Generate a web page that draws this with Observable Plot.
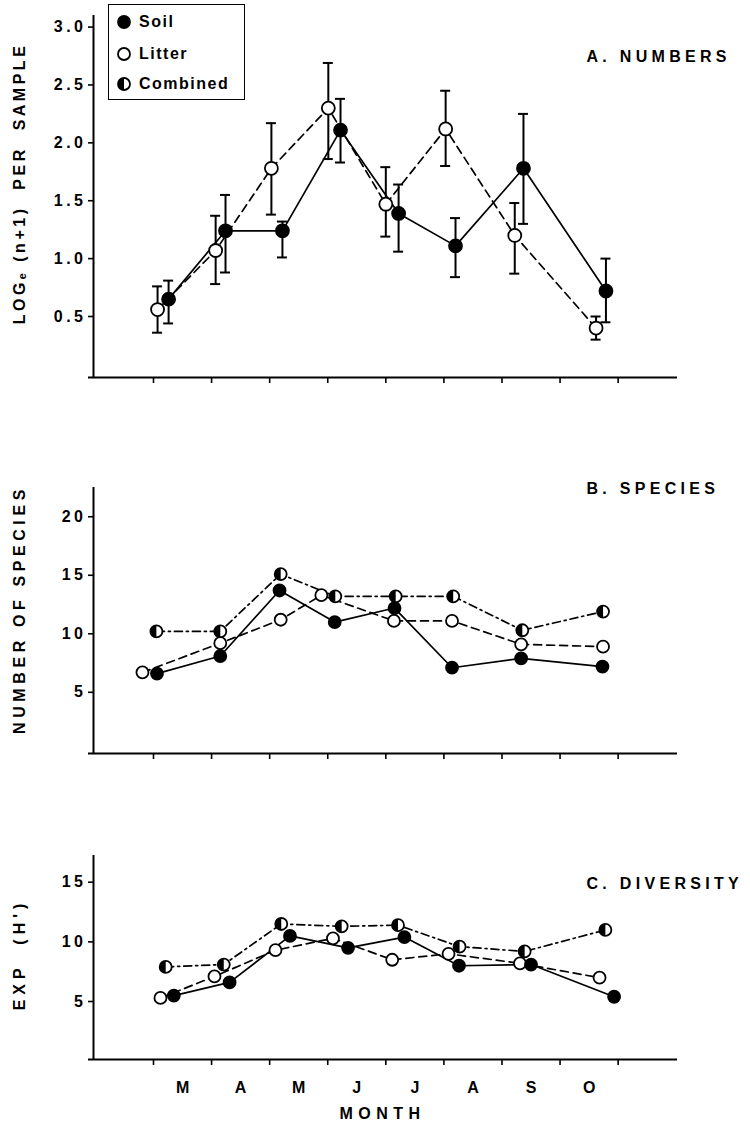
<!DOCTYPE html>
<html>
<head>
<meta charset="utf-8">
<script src="https://cdn.jsdelivr.net/npm/d3@7"></script>
<script src="https://cdn.jsdelivr.net/npm/@observablehq/plot@0.6"></script>
<style>
  body { margin: 0; background: #fff; }
  #wrap { position: relative; width: 750px; height: 1129px; background: #fff; overflow: hidden; }
  #wrap svg { display: block; }
  .legend { position: absolute; left: 108px; top: 4px; width: 135px; height: 94px; border: 1.5px solid #000; background: #fff;
    font-family: "Liberation Sans", Arial, sans-serif; font-weight: bold; font-size: 16px; letter-spacing: 1.5px; color: #000; }
  .legend .row { position: absolute; left: 0; height: 16px; display: flex; align-items: center; }
  .legend .row svg { position: absolute; left: 7px; top: -0px; }
  .legend .row span { position: absolute; left: 30px; white-space: nowrap; line-height: 16px; }
</style>
</head>
<body>
<div id="wrap"></div>
<script>
// ---------- data (x in months after 1 March; y values) ----------
const monthLabels = ["M", "A", "M", "J", "J", "A", "S", "O"];
const monthMids = [0.5, 1.5, 2.5, 3.5, 4.5, 5.5, 6.5, 7.5];
const monthEdges = [0, 1, 2, 3, 4, 5, 6, 7, 8];
const legendLabels = ["Soil", "Litter", "Combined"];

// A. NUMBERS
const numSoilX   = [0.26, 1.24, 2.22, 3.22, 4.22, 5.20, 6.37, 7.79];
const numSoil    = [0.65, 1.24, 1.24, 2.11, 1.39, 1.11, 1.78, 0.72];
const numSoilLo  = [0.44, 0.88, 1.01, 1.83, 1.06, 0.84, 1.30, 0.45];
const numSoilHi  = [0.81, 1.55, 1.32, 2.38, 1.64, 1.35, 2.25, 1.00];
const numLitX    = [0.07, 1.07, 2.03, 3.01, 4.00, 5.03, 6.22, 7.62];
const numLit     = [0.56, 1.07, 1.78, 2.30, 1.47, 2.12, 1.20, 0.40];
const numLitLo   = [0.36, 0.78, 1.38, 1.86, 1.19, 1.80, 0.87, 0.30];
const numLitHi   = [0.76, 1.37, 2.17, 2.69, 1.79, 2.45, 1.48, 0.50];

// B. SPECIES
const spSoilX = [0.06, 1.15, 2.17, 3.12, 4.15, 5.14, 6.33, 7.73];
const spSoil  = [6.6, 8.1, 13.7, 11.0, 12.2, 7.1, 7.9, 7.2];
const spLitX  = [-0.19, 1.15, 2.19, 2.89, 4.14, 5.14, 6.33, 7.74];
const spLit   = [6.7, 9.2, 11.2, 13.3, 11.1, 11.1, 9.1, 8.9];
const spComX  = [0.05, 1.15, 2.19, 3.13, 4.17, 5.16, 6.35, 7.74];
const spCom   = [10.2, 10.2, 15.1, 13.2, 13.2, 13.2, 10.3, 11.9];

// C. DIVERSITY
const dvSoilX = [0.35, 1.31, 2.35, 3.35, 4.32, 5.26, 6.50, 7.93];
const dvSoil  = [5.5, 6.6, 10.5, 9.5, 10.4, 8.0, 8.1, 5.4];
const dvLitX  = [0.12, 1.05, 2.10, 3.09, 4.11, 5.08, 6.31, 7.68];
const dvLit   = [5.3, 7.1, 9.3, 10.3, 8.5, 9.0, 8.2, 7.0];
const dvComX  = [0.21, 1.21, 2.20, 3.24, 4.21, 5.27, 6.39, 7.78];
const dvCom   = [7.9, 8.1, 11.5, 11.3, 11.4, 9.6, 9.2, 11.0];

// ---------- helpers ----------
const XMIN = -1.033, XMAX = 9.022;
const FONT = '"Liberation Sans", Arial, Helvetica, sans-serif';
const rows = (xs, ys, lo, hi) => xs.map((x, i) => ({x, y: ys[i], lo: lo ? lo[i] : null, hi: hi ? hi[i] : null}));

const halfLeft = {
  draw(ctx, size) {
    const r = Math.sqrt(size / Math.PI);
    ctx.moveTo(0, -r);
    ctx.arc(0, 0, r, -Math.PI / 2, Math.PI / 2, true);
    ctx.closePath();
  }
};

const STYLES = {
  soil:   {dash: null, fill: "black"},
  litter: {dash: "8,5", fill: "white"},
  comb:   {dash: "8,4,2,4", fill: "white", half: true}
};

function panel(cfg) {
  const marks = [];
  // axis lines
  marks.push(Plot.ruleX([XMIN], {stroke: "black", strokeWidth: 2}));
  marks.push(Plot.ruleY([cfg.ydomain[0]], {stroke: "black", strokeWidth: 2, insetLeft: -5}));
  // y axis ticks + labels
  marks.push(Plot.axisY({ticks: cfg.yticks, tickFormat: cfg.yfmt, tickSize: 5, tickPadding: 2, label: null,
    fontSize: 16, fontWeight: "bold", strokeWidth: 1.6}));
  // x tick marks
  marks.push(Plot.axisX({ticks: monthEdges, tickSize: 6, tickFormat: () => "", label: null, strokeWidth: 1.6}));
  if (cfg.months) {
    marks.push(Plot.axisX({ticks: monthMids, tickSize: 0, tickPadding: 22, label: null,
      tickFormat: (d, i) => monthLabels[i], fontSize: 16, fontWeight: "bold"}));
    marks.push(Plot.text(["MONTH"], {frameAnchor: "bottom", dy: 59, dx: -3, textAnchor: "middle", fontSize: 16, fontWeight: "bold"}));
  }
  // error bars
  for (const s of cfg.series) {
    if (s.data[0].lo != null) {
      marks.push(Plot.ruleX(s.data, {x: "x", y1: "lo", y2: "hi", stroke: "black", strokeWidth: 2}));
      marks.push(Plot.ruleY(s.data, {x1: "x", x2: "x", y: "lo", stroke: "black", strokeWidth: 2, insetLeft: -5, insetRight: -5}));
      marks.push(Plot.ruleY(s.data, {x1: "x", x2: "x", y: "hi", stroke: "black", strokeWidth: 2, insetLeft: -5, insetRight: -5}));
    }
  }
  // lines
  for (const s of cfg.series) {
    const st = STYLES[s.kind];
    marks.push(Plot.line(s.data, {x: "x", y: "y", stroke: "black", strokeWidth: 1.7, strokeDasharray: st.dash}));
  }
  // dots
  for (const s of cfg.series) {
    const st = STYLES[s.kind];
    marks.push(Plot.dot(s.data, {x: "x", y: "y", r: cfg.r, fill: st.fill, stroke: "black", strokeWidth: 1.8}));
    if (st.half) marks.push(Plot.dot(s.data, {x: "x", y: "y", r: cfg.r, symbol: halfLeft, fill: "black", stroke: "none"}));
  }
  // title & y label
  marks.push(Plot.text([cfg.title], {frameAnchor: "top-left", dx: 493, dy: cfg.titleDy, textAnchor: "start",
    fontSize: 16, fontWeight: "bold"}));
  marks.push(Plot.text([cfg.ylabel], {frameAnchor: "left", rotate: -90, dx: -74, dy: cfg.ylabDy, textAnchor: "middle",
    fontSize: 16, fontWeight: "bold"}));

  const svg = Plot.plot({
    width: 750, height: cfg.height,
    marginLeft: 93, marginRight: 73, marginTop: cfg.mt, marginBottom: cfg.mb,
    x: {domain: [XMIN, XMAX]},
    y: {domain: cfg.ydomain},
    style: {fontFamily: FONT, fontSize: "15px", color: "black", background: "white", overflow: "visible"},
    marks
  });
  d3.select(svg).selectAll("text").each(function() {
    const t = this.textContent;
    let s = null;
    if (t === cfg.title) s = 4.3;
    else if (t === cfg.ylabel) s = cfg.ylabSpacing;
    else if (t === "MONTH") s = 5.5;
    else if (/^[0-9.]+$/.test(t)) s = 3.5;
    if (s != null) this.setAttribute("letter-spacing", s);
  });
  return svg;
}

const wrap = document.getElementById("wrap");

wrap.appendChild(panel({
  height: 400, mt: 15, mb: 23, ydomain: [-0.027, 3.10], yticks: [0.5, 1, 1.5, 2, 2.5, 3], yfmt: d3.format(".1f"),
  title: "A. NUMBERS", titleDy: 35, ylabel: "LOGₑ (n+1)  PER  SAMPLE", ylabDy: -13, ylabSpacing: 3.5, r: 6.5,
  series: [
    {kind: "litter", data: rows(numLitX, numLit, numLitLo, numLitHi)},
    {kind: "soil", data: rows(numSoilX, numSoil, numSoilLo, numSoilHi)}
  ]
}));

wrap.appendChild(panel({
  height: 375, mt: 87, mb: 22, ydomain: [-0.23, 22.5], yticks: [5, 10, 15, 20], yfmt: d3.format("d"),
  title: "B. SPECIES", titleDy: -5, ylabel: "NUMBER OF SPECIES", ylabDy: -11, ylabSpacing: 4.6, r: 6,
  series: [
    {kind: "comb", data: rows(spComX, spCom)},
    {kind: "litter", data: rows(spLitX, spLit)},
    {kind: "soil", data: rows(spSoilX, spSoil)}
  ]
}));

wrap.appendChild(panel({
  height: 354, mt: 80, mb: 70, ydomain: [0.14, 17.24], yticks: [5, 10, 15], yfmt: d3.format("d"),
  title: "C. DIVERSITY", titleDy: 22, ylabel: "EXP  (H')", ylabDy: -3, ylabSpacing: 5, r: 6, months: true,
  series: [
    {kind: "comb", data: rows(dvComX, dvCom)},
    {kind: "litter", data: rows(dvLitX, dvLit)},
    {kind: "soil", data: rows(dvSoilX, dvSoil)}
  ]
}));

// legend (HTML overlay on top of panel A)
const leg = document.createElement("div");
leg.className = "legend";
const legY = [9, 41, 71];
legendLabels.forEach((lab, i) => {
  const row = document.createElement("div");
  row.className = "row";
  row.style.top = legY[i] + "px";
  const kind = ["soil", "litter", "comb"][i];
  let sym = '<svg width="16" height="16" viewBox="-8 -8 16 16">';
  sym += `<circle r="6" fill="${kind === "soil" ? "black" : "white"}" stroke="black" stroke-width="1.8"/>`;
  if (kind === "comb") sym += '<path d="M0,-6A6,6 0 0,0 0,6Z" fill="black"/>';
  sym += '</svg>';
  row.innerHTML = sym + `<span>${lab}</span>`;
  leg.appendChild(row);
});
wrap.appendChild(leg);
</script>
</body>
</html>
